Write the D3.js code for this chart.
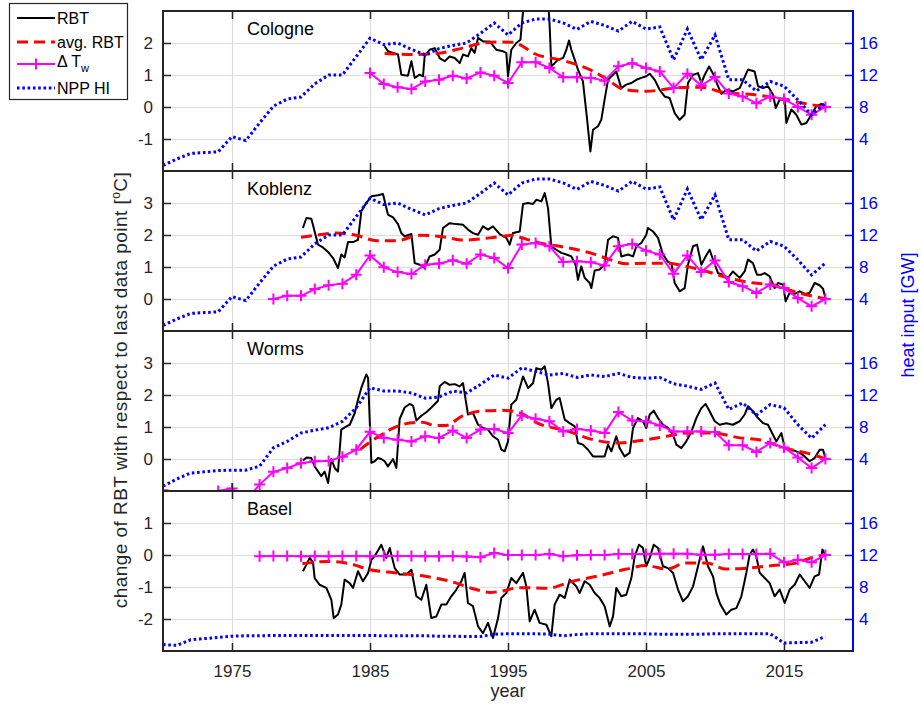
<!DOCTYPE html>
<html>
<head>
<meta charset="utf-8">
<script src="https://cdn.jsdelivr.net/npm/d3@7"></script>
<style>
body { margin: 0; background: #fff; }
svg { display: block; font-family: "Liberation Sans", Arial, sans-serif; }
</style>
</head>
<body>
<svg id="chart" width="921" height="705"></svg>
<script>
'use strict';

// ---- data ----

// yearly heat input of nuclear power plants upstream [GW]
var nppYears = d3.range(1970, 2019);
var nppUpper = [0.7, 1.5, 2.2, 2.3, 2.4, 4.3, 3.8, 6.0, 8.1, 9.0,
    9.25, 10.9, 12.0, 12.0, 14.3, 16.6, 15.8, 16.0, 15.2, 14.5,
    15.3, 15.7, 16.0, 17.2, 18.5, 17.0, 18.5, 19.0, 19.0, 18.5,
    17.7, 18.7, 18.2, 17.5, 18.7, 17.75, 18.0, 13.9, 17.75, 13.9,
    17.0, 11.4, 11.4, 10.0, 11.2, 10.6, 8.9, 7.0, 8.5];
var nppWorms = [0.6, 1.5, 2.25, 2.4, 2.55, 2.6, 2.6, 3.1, 5.4, 6.2,
    7.25, 7.6, 7.9, 8.7, 10.4, 12.9, 12.5, 12.5, 12.25, 11.6,
    11.75, 12.5, 12.25, 13.3, 14.5, 14.1, 15.4, 14.95, 14.5, 14.7,
    14.2, 14.5, 14.3, 14.7, 14.2, 14.1, 14.2, 13.4, 13.1, 12.7,
    13.5, 10.2, 11.0, 9.5, 10.8, 10.4, 8.3, 6.6, 8.3];
var nppBasel = [0.8, 0.7, 1.4, 1.55, 1.7, 1.85, 1.9, 1.9, 1.95, 1.95,
    1.95, 1.95, 1.95, 1.95, 1.95, 1.95, 1.9, 1.9, 1.9, 1.9,
    1.85, 1.85, 1.8, 1.8, 2.1, 2.15, 2.15, 2.15, 2.1, 1.9,
    2.05, 2.15, 2.15, 2.15, 2.15, 2.15, 2.1, 2.1, 2.1, 2.1,
    2.15, 2.15, 2.15, 2.15, 2.15, 1.0, 1.05, 1.1, 1.8];

// yearly change of water temperature (delta T_w) [°C]
var dtwYearsCologne = d3.range(1985, 2019);
var dtwCologne = [1.06, 0.72, 0.62, 0.56, 0.80, 0.85, 0.98, 0.89, 1.08, 0.98,
    0.75, 1.40, 1.40, 1.22, 0.93, 0.93, 0.91, 0.82, 1.27, 1.37,
    1.22, 1.11, 0.59, 1.04, 0.67, 0.94, 0.42, 0.33, 0.12, 0.33,
    0.25, 0.0, -0.24, 0];
var dtwYearsKoblenz = d3.range(1978, 2019);
var dtwKoblenz = [0, 0.10, 0.10, 0.31, 0.43, 0.48, 0.76, 1.36, 0.99, 0.84,
    0.78, 1.07, 1.11, 1.21, 1.10, 1.39, 1.28, 0.97, 1.70, 1.75,
    1.65, 1.16, 1.18, 1.15, 1.05, 1.65, 1.72, 1.51, 1.39, 0.79,
    1.36, 0.84, 1.20, 0.53, 0.40, 0.19, 0.45, 0.34, 0.03, -0.23, 0];
var dtwYearsWorms = d3.range(1970, 2019);
var dtwWorms = [-0.98, -1.3, -1.3, -1.3, -1.0, -0.92, -1.3, -0.80, -0.40, -0.28,
    -0.13, -0.07, -0.06, 0.07, 0.29, 0.85, 0.66, 0.60, 0.55, 0.71,
    0.66, 0.89, 0.66, 0.92, 0.94, 0.81, 1.36, 1.26, 1.18, 0.86,
    0.94, 0.89, 0.81, 1.47, 1.20, 1.18, 1.05, 0.86, 0.86, 0.86,
    0.84, 0.43, 0.43, 0.22, 0.50, 0.36, 0.05, -0.28, 0];
var dtwYearsBasel = d3.range(1977, 2019);
var dtwBasel = [-0.04, -0.03, -0.03, -0.04, -0.03, -0.04, -0.03, -0.03, -0.04, -0.03,
    -0.03, -0.03, -0.04, -0.04, -0.03, -0.05, -0.07, 0.06, 0.0, 0.0,
    0.0, 0.03, -0.04, -0.01, 0.0, 0.0, 0.03, 0.03, 0.03, 0.04,
    0.04, 0.04, 0.01, 0.01, 0.03, 0.03, 0.03, 0.04, -0.23, -0.15,
    -0.23, 0];

// smoothed river bed temperature change, [year, °C]
var avgCologne = [[1986.06, 1.67], [1988.1, 1.64], [1989.8, 1.67], [1991.7, 1.84], [1993.2, 2.0],
    [1994.4, 2.03], [1995.4, 2.02], [1995.85, 1.95], [1996.45, 1.79], [1996.8, 1.69],
    [1999.2, 1.43], [2001.2, 1.11], [2002.4, 0.80], [2003.3, 0.56], [2005.0, 0.49],
    [2007.0, 0.59], [2008.9, 0.62], [2010.8, 0.44], [2012.75, 0.39], [2014.7, 0.25],
    [2016.6, 0.10], [2018.02, 0]];
var avgKoblenz = [[1980.0, 1.93], [1981.35, 2.01], [1982.6, 2.06], [1984.0, 1.99], [1985.5, 1.82],
    [1986.9, 1.82], [1988.6, 1.99], [1990.5, 1.93], [1991.7, 1.84], [1993.7, 1.91],
    [1995.36, 1.99], [1995.85, 1.93], [1997.3, 1.75], [1999.2, 1.61], [2001.2, 1.41],
    [2002.4, 1.23], [2003.6, 1.10], [2005.0, 1.12], [2006.5, 1.12], [2007.9, 1.02],
    [2009.4, 0.86], [2010.8, 0.68], [2012.3, 0.53], [2014.2, 0.43], [2016.1, 0.19],
    [2018.02, 0]];
var avgWorms = [[1984.3, 0.3], [1984.9, 0.5], [1986.0, 0.8], [1986.6, 0.95], [1988.0, 1.13],
    [1988.8, 1.15], [1989.7, 1.05], [1990.5, 1.05], [1991.7, 1.35], [1993.2, 1.5],
    [1994.6, 1.52], [1995.85, 1.44], [1997.3, 1.09], [1999.2, 0.89], [2001.2, 0.60],
    [2003.1, 0.50], [2004.5, 0.57], [2006.5, 0.71], [2007.9, 0.81], [2009.9, 0.81],
    [2011.8, 0.66], [2013.2, 0.60], [2015.2, 0.32], [2016.6, 0.19], [2018.02, 0]];
var avgBasel = [[1980.1, -0.27], [1982.1, -0.20], [1983.5, -0.27], [1985.0, -0.46], [1986.9, -0.56],
    [1988.8, -0.65], [1990.8, -0.82], [1992.7, -1.08], [1993.7, -1.17], [1994.4, -1.14],
    [1995.85, -1.02], [1997.8, -1.04], [1999.7, -0.82], [2001.6, -0.65], [2003.6, -0.44],
    [2005.0, -0.33], [2006.5, -0.44], [2007.9, -0.25], [2009.4, -0.25], [2010.8, -0.44],
    [2012.3, -0.41], [2014.2, -0.33], [2015.65, -0.27], [2017.6, -0.02], [2018.02, 0]];

// river bed temperature change (RBT), [year, °C]
var rbtCologne = [[1986.06, 1.90], [1986.3, 1.74], [1986.67, 1.69], [1987.03, 1.64], [1987.27, 1.01],
    [1987.75, 0.98], [1988.0, 1.43], [1988.24, 0.91], [1988.6, 1.01], [1988.84, 0.96],
    [1988.96, 1.58], [1989.32, 1.79], [1989.69, 1.84], [1990.05, 1.53], [1990.41, 1.43],
    [1990.77, 1.58], [1991.14, 1.53], [1991.5, 1.37], [1991.74, 1.64], [1992.1, 1.58],
    [1992.34, 1.84], [1992.58, 1.69], [1992.83, 2.16], [1993.19, 2.05], [1993.67, 2.05],
    [1994.15, 1.79], [1994.64, 1.74], [1994.88, 1.69], [1995.0, 0.96], [1995.24, 1.79],
    [1995.6, 2.0], [1995.9, 2.1], [1996.05, 2.8], [1996.15, 3.2], [1996.4, 3.5],
    [1997.0, 3.6], [1997.9, 3.4], [1998.02, 2.52], [1998.14, 1.27], [1998.38, 1.37],
    [1998.62, 1.48], [1998.99, 1.53], [1999.23, 1.79], [1999.42, 2.08], [1999.59, 1.79],
    [1999.83, 1.48], [2000.07, 1.17], [2000.43, 0.80], [2000.72, -0.34], [2000.97, -1.39],
    [2001.16, -0.71], [2001.52, -0.60], [2001.76, -0.40], [2002.0, 0.23], [2002.25, 0.85],
    [2002.61, 1.01], [2002.85, 1.11], [2003.21, 0.59], [2003.57, 0.70], [2003.94, 0.75],
    [2004.3, 0.85], [2004.66, 0.91], [2005.02, 0.96], [2005.27, 1.04], [2005.63, 0.85],
    [2005.99, 0.54], [2006.35, 0.33], [2006.71, 0.28], [2007.08, -0.19], [2007.44, -0.40],
    [2007.8, -0.24], [2008.04, 0.75], [2008.41, 1.01], [2008.77, 1.06], [2009.01, 0.75],
    [2009.25, 1.0], [2009.57, 1.27], [2009.86, 1.04], [2010.22, 0.65], [2010.46, 0.41],
    [2010.82, 0.54], [2011.3, 0.49], [2011.79, 0.59], [2012.39, 1.17], [2012.87, 1.11],
    [2013.12, 0.65], [2013.48, 0.59], [2013.84, 0.65], [2014.2, 0.39], [2014.4, -0.03],
    [2014.69, 0.23], [2015.05, 0.28], [2015.17, -0.50], [2015.53, -0.08], [2015.89, -0.24],
    [2016.26, -0.55], [2016.62, -0.50], [2016.98, -0.24], [2017.34, 0.02], [2017.71, 0.10],
    [2018.02, 0]];
var rbtKoblenz = [[1980.14, 2.22], [1980.39, 2.53], [1980.75, 2.51], [1980.99, 2.11], [1981.23, 1.70],
    [1981.59, 1.61], [1981.96, 1.47], [1982.32, 1.28], [1982.68, 0.97], [1982.92, 1.39],
    [1983.16, 1.30], [1983.41, 1.78], [1983.77, 1.78], [1984.13, 1.85], [1984.37, 2.74],
    [1984.73, 3.0], [1985.1, 3.21], [1985.58, 3.24], [1985.94, 3.28], [1986.3, 2.64],
    [1986.67, 2.55], [1987.03, 2.34], [1987.27, 2.06], [1987.51, 1.96], [1988.0, 2.03],
    [1988.24, 1.12], [1988.6, 1.07], [1988.96, 0.97], [1989.32, 1.33], [1989.69, 1.39],
    [1990.05, 1.54], [1990.29, 2.22], [1990.77, 2.37], [1991.26, 2.34], [1991.74, 2.32],
    [1992.1, 2.17], [1992.46, 2.06], [1992.83, 2.01], [1993.19, 2.27], [1993.55, 2.17],
    [1993.91, 2.27], [1994.4, 2.03], [1994.88, 1.91], [1995.12, 1.70], [1995.36, 2.06],
    [1995.85, 2.11], [1996.09, 2.97], [1996.45, 3.0], [1996.81, 2.97], [1997.05, 3.10],
    [1997.42, 3.05], [1997.66, 3.31], [1997.9, 2.84], [1998.14, 1.65], [1998.5, 1.54],
    [1998.86, 1.44], [1999.23, 1.39], [1999.59, 1.33], [1999.9, 1.07], [2000.07, 0.60],
    [2000.31, 1.02], [2000.56, 0.66], [2000.92, 0.50], [2001.04, 0.34], [2001.28, 0.89],
    [2001.64, 0.92], [2002.0, 1.07], [2002.25, 1.85], [2002.61, 1.96], [2002.97, 1.91],
    [2003.21, 1.33], [2003.7, 1.39], [2004.06, 1.33], [2004.3, 1.65], [2004.66, 1.75],
    [2005.02, 2.01], [2005.14, 2.22], [2005.51, 2.11], [2005.87, 1.91], [2006.23, 1.39],
    [2006.59, 1.16], [2006.84, 1.12], [2007.08, 0.50], [2007.44, 0.24], [2007.8, 0.34],
    [2008.04, 1.07], [2008.41, 1.65], [2008.7, 1.70], [2009.01, 1.07], [2009.32, 1.33],
    [2009.61, 1.54], [2009.9, 1.18], [2010.22, 0.81], [2010.58, 0.76], [2010.94, 0.66],
    [2011.3, 0.86], [2011.79, 0.66], [2012.15, 0.86], [2012.39, 1.23], [2012.75, 1.12],
    [2013.04, 0.76], [2013.36, 0.76], [2013.6, 0.81], [2013.96, 0.71], [2014.32, 0.34],
    [2014.57, 0.50], [2014.93, 0.45], [2015.12, -0.07], [2015.41, 0.19], [2015.77, 0.16],
    [2016.14, 0.24], [2016.5, 0.16], [2016.86, 0.19], [2017.22, 0.50], [2017.58, 0.43],
    [2017.83, 0.32], [2018.02, 0]];
var rbtWorms = [[1980.14, -0.05], [1980.4, 0.05], [1980.75, 0.03], [1980.99, -0.23], [1981.47, -0.54],
    [1981.71, -0.39], [1981.96, -0.75], [1982.2, 0.0], [1982.44, -0.28], [1982.68, -0.39],
    [1982.92, 0.92], [1983.29, 1.02], [1983.53, 1.07], [1983.89, 1.43], [1984.13, 1.85],
    [1984.37, 2.22], [1984.73, 2.64], [1984.86, 2.53], [1985.02, 0.76], [1985.1, -0.12],
    [1985.34, -0.07], [1985.58, 0.03], [1985.82, 0.0], [1986.06, -0.07], [1986.3, -0.23],
    [1986.67, 0.0], [1986.91, -0.28], [1987.15, 1.25], [1987.51, 1.61], [1987.87, 1.72],
    [1988.12, 1.67], [1988.36, 1.20], [1988.72, 1.35], [1989.08, 1.46], [1989.45, 1.61],
    [1989.93, 1.82], [1990.05, 2.27], [1990.41, 2.41], [1990.77, 2.32], [1991.14, 2.34],
    [1991.5, 2.27], [1991.74, 2.37], [1992.1, 1.39], [1992.46, 1.44], [1992.83, 1.07],
    [1993.19, 0.97], [1993.55, 0.92], [1993.91, 0.71], [1994.28, 0.60], [1994.52, 0.29],
    [1994.76, 0.24], [1995.0, 0.55], [1995.24, 1.70], [1995.6, 1.85], [1996.09, 2.58],
    [1996.45, 2.22], [1996.81, 2.37], [1997.05, 2.84], [1997.42, 2.79], [1997.66, 2.90],
    [1997.9, 2.37], [1998.14, 1.59], [1998.5, 1.85], [1998.74, 1.91], [1999.11, 1.23],
    [1999.47, 1.12], [1999.83, 1.02], [2000.07, 0.50], [2000.43, 0.45], [2000.8, 0.29],
    [2001.16, 0.08], [2001.64, 0.08], [2002.0, 0.08], [2002.25, 0.45], [2002.49, 0.24],
    [2002.85, 0.71], [2003.09, 0.34], [2003.45, 0.08], [2003.82, 0.19], [2004.06, 0.97],
    [2004.42, 1.28], [2004.78, 1.18], [2005.02, 0.97], [2005.27, 1.39], [2005.56, 1.51],
    [2005.87, 1.28], [2006.23, 1.07], [2006.59, 0.97], [2006.96, 0.76], [2007.2, 0.45],
    [2007.56, 0.34], [2007.92, 0.55], [2008.29, 0.86], [2008.65, 1.28], [2009.01, 1.59],
    [2009.32, 1.72], [2009.61, 1.49], [2009.98, 1.18], [2010.34, 1.07], [2010.82, 1.12],
    [2011.3, 1.07], [2011.79, 1.18], [2012.15, 1.39], [2012.39, 1.65], [2012.75, 1.49],
    [2013.12, 1.28], [2013.48, 1.12], [2013.84, 1.07], [2014.2, 0.76], [2014.44, 0.55],
    [2014.81, 0.81], [2015.05, 0.34], [2015.41, 0.29], [2015.77, 0.26], [2016.14, 0.19],
    [2016.5, 0.08], [2016.86, -0.07], [2017.22, 0.03], [2017.58, 0.29], [2017.83, 0.29],
    [2018.02, 0]];
var rbtBasel = [[1980.14, -0.51], [1980.39, -0.30], [1980.63, -0.09], [1980.87, -0.23], [1980.99, -0.72],
    [1981.35, -0.93], [1981.84, -1.03], [1982.2, -1.40], [1982.37, -1.97], [1982.68, -1.86],
    [1982.92, -1.55], [1983.16, -0.77], [1983.53, -0.88], [1983.77, -1.03], [1984.13, -0.51],
    [1984.49, -0.82], [1984.86, -0.56], [1985.1, -0.15], [1985.34, -0.04], [1985.82, 0.32],
    [1986.18, -0.09], [1986.43, 0.22], [1986.79, -0.41], [1987.15, -0.61], [1987.63, -0.61],
    [1988.0, -0.46], [1988.36, -1.29], [1988.72, -1.40], [1989.08, -0.93], [1989.44, -1.97],
    [1989.81, -1.92], [1990.17, -1.55], [1990.53, -1.55], [1990.89, -1.29], [1991.26, -1.08],
    [1991.62, -0.82], [1991.86, -0.56], [1992.1, -1.50], [1992.46, -1.60], [1992.83, -2.23],
    [1993.19, -2.44], [1993.55, -2.12], [1993.91, -2.59], [1994.28, -1.97], [1994.52, -1.34],
    [1994.88, -1.19], [1995.24, -0.72], [1995.6, -0.88], [1996.09, -0.56], [1996.33, -0.98],
    [1996.57, -2.07], [1996.93, -1.71], [1997.29, -2.12], [1997.78, -2.18], [1998.14, -2.54],
    [1998.38, -1.55], [1998.74, -1.24], [1999.11, -1.34], [1999.47, -0.77], [1999.95, -0.98],
    [2000.19, -1.19], [2000.56, -0.82], [2000.92, -0.93], [2001.28, -1.19], [2001.64, -1.34],
    [2002.0, -1.60], [2002.37, -2.23], [2002.61, -1.92], [2002.85, -1.03], [2003.21, -1.29],
    [2003.57, -1.24], [2003.94, -0.72], [2004.18, -0.04], [2004.49, 0.32], [2004.78, 0.22],
    [2005.02, -0.35], [2005.27, -0.09], [2005.56, 0.32], [2005.87, 0.22], [2006.23, -0.35],
    [2006.59, -0.41], [2006.96, -0.56], [2007.32, -1.08], [2007.68, -1.45], [2008.04, -1.29],
    [2008.41, -0.98], [2008.77, -0.35], [2009.13, 0.27], [2009.49, -0.35], [2009.86, -0.67],
    [2010.1, -1.19], [2010.39, -1.55], [2010.82, -1.86], [2011.18, -1.71], [2011.55, -1.66],
    [2011.91, -1.29], [2012.27, -0.56], [2012.51, 0.01], [2012.75, 0.17], [2012.99, -0.04],
    [2013.24, -0.56], [2013.6, -0.72], [2013.96, -0.88], [2014.32, -1.29], [2014.69, -1.08],
    [2015.05, -1.50], [2015.41, -1.08], [2015.77, -0.93], [2016.14, -0.61], [2016.5, -0.82],
    [2016.86, -1.03], [2017.22, -0.67], [2017.54, -0.61], [2017.78, 0.17], [2018.02, 0]];

var stationNames = ['Cologne', 'Koblenz', 'Worms', 'Basel'];
var leftDomains = [[-2, 3], [-1, 4], [-1, 4], [-3, 2]];
var leftTicks = [[-1, 0, 1, 2], [0, 1, 2, 3], [0, 1, 2, 3], [-2, -1, 0, 1]];
var rightTicks = [4, 8, 12, 16];
var yearTicks = [1975, 1985, 1995, 2005, 2015];

// table built from the arrays above
var panels = [
    {rbt: rbtCologne, avg: avgCologne, dtwYears: dtwYearsCologne, dtw: dtwCologne, npp: nppUpper},
    {rbt: rbtKoblenz, avg: avgKoblenz, dtwYears: dtwYearsKoblenz, dtw: dtwKoblenz, npp: nppUpper},
    {rbt: rbtWorms, avg: avgWorms, dtwYears: dtwYearsWorms, dtw: dtwWorms, npp: nppWorms},
    {rbt: rbtBasel, avg: avgBasel, dtwYears: dtwYearsBasel, dtw: dtwBasel, npp: nppBasel}
];

// ---- layout ----
var plotLeft = 163, plotRight = 853, plotTop = 11, panelHeight = 160;
var axisColor = '#262626', gridColor = '#dcdcdc', blue = '#0000ff';
var tickLen = 8;

var svg = d3.select('#chart');
var x = d3.scaleLinear().domain([1970, 2020]).range([plotLeft, plotRight]);

var plusSymbol = 'M-5.5,0H5.5M0,-5.5V5.5';

panels.forEach(function(p, i) {
    var top = plotTop + i * panelHeight;
    var bottom = top + panelHeight;
    var y = d3.scaleLinear().domain(leftDomains[i]).range([bottom, top]);
    var yR = d3.scaleLinear().domain([0, 20]).range([bottom, top]);
    var g = svg.append('g');

    // grid
    g.append('g').attr('transform', 'translate(0,' + bottom + ')')
        .call(d3.axisBottom(x).tickValues(yearTicks).tickSize(-panelHeight).tickFormat(''))
        .call(function(a) { a.select('.domain').remove(); a.selectAll('line').attr('stroke', gridColor).attr('stroke-width', 1.2); });
    g.append('g').attr('transform', 'translate(' + plotLeft + ',0)')
        .call(d3.axisLeft(y).tickValues(leftTicks[i]).tickSize(-(plotRight - plotLeft)).tickFormat(''))
        .call(function(a) { a.select('.domain').remove(); a.selectAll('line').attr('stroke', gridColor).attr('stroke-width', 1.2); });

    // clipping to the panel
    var clipId = 'clip' + i;
    svg.append('clipPath').attr('id', clipId).append('rect')
        .attr('x', plotLeft).attr('y', top).attr('width', plotRight - plotLeft).attr('height', panelHeight);
    var plot = g.append('g').attr('clip-path', 'url(#' + clipId + ')');

    var line = d3.line().x(function(d) { return x(d[0]); }).y(function(d) { return y(d[1]); });

    plot.append('path').datum(p.rbt)
        .attr('d', line).attr('fill', 'none').attr('stroke', '#000').attr('stroke-width', 2)
        .attr('stroke-linejoin', 'round');

    plot.append('path').datum(p.avg)
        .attr('d', line.curve(d3.curveMonotoneX)).attr('fill', 'none').attr('stroke', '#ff0000')
        .attr('stroke-width', 3).attr('stroke-dasharray', '11,6');
    line.curve(d3.curveLinear);

    var dtwPts = p.dtwYears.map(function(yr, k) { return [yr, p.dtw[k]]; });
    plot.append('path').datum(dtwPts)
        .attr('d', line).attr('fill', 'none').attr('stroke', '#ff00ff').attr('stroke-width', 2);
    plot.selectAll('path.mk').data(dtwPts).enter().append('path').attr('class', 'mk')
        .attr('d', plusSymbol)
        .attr('transform', function(d) { return 'translate(' + x(d[0]) + ',' + y(d[1]) + ')'; })
        .attr('stroke', '#ff00ff').attr('stroke-width', 2);

    var nppLine = d3.line().x(function(d, k) { return x(nppYears[k]); }).y(function(d) { return yR(d); });
    plot.append('path').datum(p.npp)
        .attr('d', nppLine).attr('fill', 'none').attr('stroke', blue).attr('stroke-width', 3)
        .attr('stroke-dasharray', '2.6,2.7');

    // left axis (ticks inward)
    g.append('g').attr('transform', 'translate(' + plotLeft + ',0)')
        .call(d3.axisLeft(y).tickValues(leftTicks[i]).tickSize(-tickLen).tickPadding(10).tickFormat(d3.format('d')))
        .call(function(a) {
            a.select('.domain').remove();
            a.selectAll('line').attr('stroke', axisColor).attr('stroke-width', 1.5);
            a.selectAll('text').attr('fill', axisColor).style('font-size', '17px')
                .text(function(d) { return d < 0 ? '-' + Math.abs(d) : d; });
        });

    // right axis (blue)
    g.append('g').attr('transform', 'translate(' + plotRight + ',0)')
        .call(d3.axisRight(yR).tickValues(rightTicks).tickSize(-tickLen).tickPadding(6))
        .call(function(a) {
            a.select('.domain').remove();
            a.selectAll('line').attr('stroke', blue).attr('stroke-width', 1.5);
            a.selectAll('text').attr('fill', blue).style('font-size', '17px');
        });

    // year ticks top and bottom
    g.append('g').attr('transform', 'translate(0,' + bottom + ')')
        .call(d3.axisBottom(x).tickValues(yearTicks).tickSize(-tickLen).tickPadding(14).tickFormat(d3.format('d')))
        .call(function(a) {
            a.select('.domain').remove();
            a.selectAll('line').attr('stroke', axisColor).attr('stroke-width', 1.5);
            a.selectAll('text').attr('fill', axisColor).style('font-size', '17px');
            if (i < panels.length - 1) a.selectAll('text').remove();
        });
    g.append('g').attr('transform', 'translate(0,' + top + ')')
        .call(d3.axisTop(x).tickValues(yearTicks).tickSize(-tickLen).tickFormat(''))
        .call(function(a) {
            a.select('.domain').remove();
            a.selectAll('line').attr('stroke', axisColor).attr('stroke-width', 1.5);
        });

    // box
    g.append('path')
        .attr('d', 'M' + plotRight + ',' + top + 'H' + plotLeft + 'V' + bottom + 'H' + plotRight)
        .attr('fill', 'none').attr('stroke', axisColor).attr('stroke-width', 2);
    g.append('line')
        .attr('x1', plotRight).attr('x2', plotRight).attr('y1', top - 1).attr('y2', bottom + 1)
        .attr('stroke', blue).attr('stroke-width', 2);

    // station name
    g.append('text').attr('x', 247).attr('y', top + 23.5)
        .attr('fill', '#000').style('font-size', '18px').text(stationNames[i]);
});

// axis labels
svg.append('text').attr('x', (plotLeft + plotRight) / 2).attr('y', 697)
    .attr('text-anchor', 'middle').attr('fill', axisColor).style('font-size', '18px').text('year');

var yl = svg.append('text')
    .attr('transform', 'translate(127,390) rotate(-90)')
    .attr('text-anchor', 'middle').attr('fill', axisColor)
    .style('font-size', '19px').style('letter-spacing', '0.45px');
yl.append('tspan').text('change of RBT with respect to last data point [');
yl.append('tspan').attr('dy', -7).style('font-size', '12px').text('o');
yl.append('tspan').attr('dy', 7).text('C]');

svg.append('text')
    .attr('transform', 'translate(914,315) rotate(-90)')
    .attr('text-anchor', 'middle').attr('fill', blue).style('font-size', '18px')
    .text('heat input [GW]');

// ---- legend ----
var legend = svg.append('g');
legend.append('rect').attr('x', 9.5).attr('y', 3.5).attr('width', 118).attr('height', 96)
    .attr('fill', '#fff').attr('stroke', axisColor).attr('stroke-width', 1.2);

var legendRows = [
    {y: 18, color: '#000', dash: null, width: 2},
    {y: 42, color: '#ff0000', dash: '11,6', width: 3},
    {y: 64, color: '#ff00ff', dash: null, width: 2},
    {y: 88, color: blue, dash: '2.6,2.7', width: 3}
];
legendRows.forEach(function(r) {
    legend.append('line').attr('x1', 17).attr('x2', 55).attr('y1', r.y).attr('y2', r.y)
        .attr('stroke', r.color).attr('stroke-width', r.width).attr('stroke-dasharray', r.dash);
});
legend.append('path').attr('d', plusSymbol).attr('transform', 'translate(36,64)')
    .attr('stroke', '#ff00ff').attr('stroke-width', 2);

legend.append('text').attr('x', 57).attr('y', 24).style('font-size', '16px').text('RBT');
legend.append('text').attr('x', 57).attr('y', 48).style('font-size', '16px').text('avg. RBT');
var dt = legend.append('text').attr('x', 57).attr('y', 67).style('font-size', '16px');
dt.append('tspan').text('\u0394 T');
dt.append('tspan').attr('dy', 5).style('font-size', '11px').text('w');
legend.append('text').attr('x', 57).attr('y', 94).style('font-size', '16px').text('NPP HI');
</script>
</body>
</html>
